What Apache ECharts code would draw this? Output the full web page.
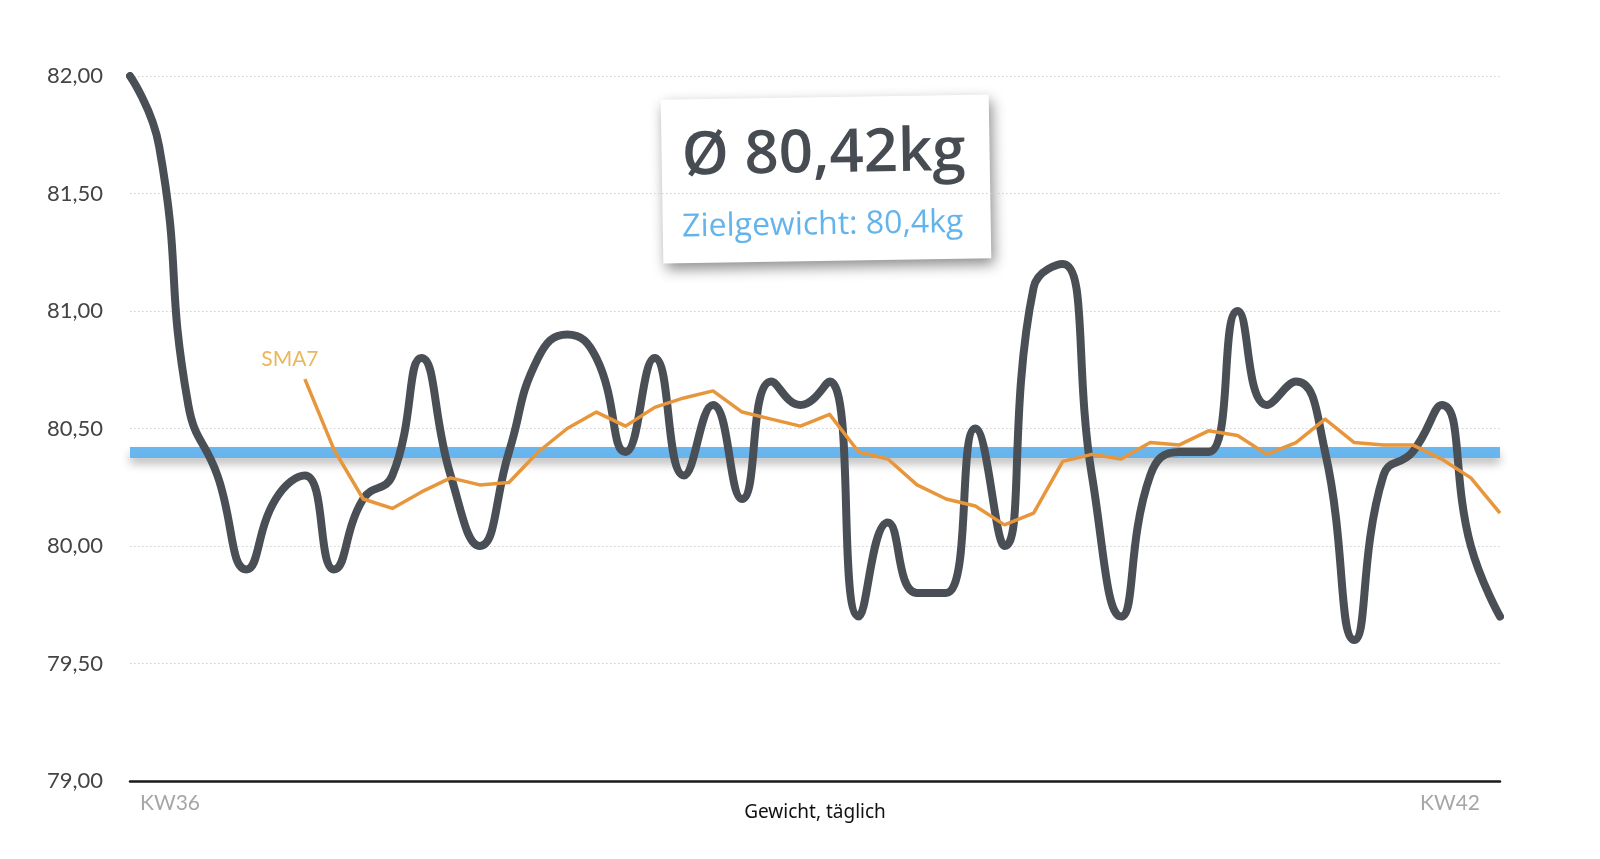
<!DOCTYPE html>
<html>
<head>
<meta charset="utf-8">
<script src="https://cdn.jsdelivr.net/npm/echarts@6/dist/echarts.min.js"></script>
<style>
  html, body { margin: 0; padding: 0; background: #ffffff; }
  #chart { width: 1600px; height: 859px; }
</style>
</head>
<body>
<div id="chart"></div>
<script>
// Daily weight (kg)
const weights = [
  82.0, 81.7, 80.6, 80.3, 79.9, 80.2, 80.3, 79.9, 80.2, 80.3,
  80.8, 80.3, 80.0, 80.4, 80.8, 80.9, 80.8, 80.4, 80.8, 80.3,
  80.6, 80.2, 80.7, 80.6, 80.7, 79.7, 80.1, 79.8, 79.8, 80.5,
  80.0, 81.1, 81.2, 80.3, 79.7, 80.3, 80.4, 80.4, 81.0, 80.6,
  80.7, 80.4, 79.6, 80.3, 80.4, 80.6, 80.0, 79.7
];
// SMA7 line (first 6 days empty)
const sma7 = [
  null, null, null, null, null, null,
  80.71, 80.41, 80.20, 80.16, 80.23, 80.29, 80.26, 80.27, 80.40, 80.50,
  80.57, 80.51, 80.59, 80.63, 80.66, 80.57, 80.54, 80.51, 80.56, 80.40,
  80.37, 80.26, 80.20, 80.17, 80.09, 80.14, 80.36, 80.39, 80.37, 80.44,
  80.43, 80.49, 80.47, 80.39, 80.44, 80.54, 80.44, 80.43, 80.43, 80.37,
  80.29, 80.14
];
const targetWeight = 80.4;
const averageText = 'Ø 80,42kg';
const targetText = 'Zielgewicht: 80,4kg';
const days = weights.map((_, i) => 'Tag ' + (i + 1));
const xTickLabels = { 0: 'KW36', 47: 'KW42' };
const yTicks = { min: 79, max: 82, interval: 0.5 };
const xAxisTitle = 'Gewicht, täglich';
const smaName = 'SMA7';

const smaStart = sma7.findIndex(v => v !== null);

const chart = echarts.init(document.getElementById('chart'), null, { renderer: 'canvas' });
chart.setOption({
  animation: false,
  backgroundColor: '#ffffff',
  grid: { left: 130, right: 100, top: 76, bottom: 78, containLabel: false },
  xAxis: {
    type: 'category',
    data: days,
    boundaryGap: false,
    axisLine: { show: true, lineStyle: { color: '#1a1a1a', width: 2.5 } },
    axisTick: { show: false },
    splitLine: { show: false },
    axisLabel: {
      interval: 0,
      margin: 12,
      alignMinLabel: 'left',
      alignMaxLabel: 'right',
      formatter: (v, i) => {
        if (i === 0) return '{a|' + xTickLabels[0] + '}';
        if (xTickLabels[i]) return '{b|' + xTickLabels[i] + '}';
        return '';
      },
      rich: {
        a: { fontFamily: 'Lato', fontSize: 21, color: '#a6a6a6', padding: [0, 0, 0, 10] },
        b: { fontFamily: 'Lato', fontSize: 21, color: '#a6a6a6', padding: [0, 20, 0, 0] }
      }
    },
    name: xAxisTitle,
    nameLocation: 'middle',
    nameGap: 22,
    nameMoveOverlap: false,
    nameTextStyle: { fontFamily: 'Noto Sans', fontSize: 19, color: '#111111' }
  },
  yAxis: {
    type: 'value',
    min: yTicks.min,
    max: yTicks.max,
    interval: yTicks.interval,
    axisLine: { show: false },
    axisTick: { show: false },
    axisLabel: {
      margin: 27,
      fontFamily: 'Lato',
      fontSize: 22,
      color: '#444444',
      formatter: v => v.toFixed(2).replace('.', ',')
    },
    splitLine: { show: true, lineStyle: { color: '#cfcfcf', type: [1.5, 2.5], width: 1.2 } }
  },
  series: [
    {
      name: 'Zielgewicht',
      type: 'line',
      data: [],
      silent: true,
      z: 1,
      markLine: {
        silent: true,
        z: 1,
        symbol: 'none',
        label: { show: false },
        lineStyle: {
          color: '#62b3ee',
          width: 11,
          type: 'solid',
          opacity: 0.95,
          shadowColor: 'rgba(0,0,0,0.28)',
          shadowBlur: 10,
          shadowOffsetY: 6
        },
        data: [{ yAxis: targetWeight }]
      }
    },
    {
      name: 'Gewicht',
      type: 'line',
      data: weights,
      smooth: 0.5,
      showSymbol: false,
      symbol: 'none',
      z: 3,
      lineStyle: { color: '#4a4f56', width: 8, cap: 'round', join: 'round' }
    },
    {
      name: smaName,
      type: 'line',
      data: sma7,
      smooth: false,
      showSymbol: false,
      symbol: 'none',
      z: 4,
      lineStyle: { color: '#e8963b', width: 3.5, join: 'round' },
      markPoint: {
        silent: true,
        symbol: 'circle',
        symbolSize: 0,
        label: {
          show: true,
          position: 'inside',
          offset: [-15, -20],
          formatter: smaName,
          fontFamily: 'Lato',
          fontSize: 21,
          color: '#ebb65c'
        },
        data: [{ coord: [smaStart, sma7[smaStart]], value: smaName }]
      }
    }
  ],
  graphic: [
    {
      type: 'group',
      x: 826,
      y: 179,
      rotation: 0.016,
      z: 100,
      children: [
        {
          type: 'rect',
          shape: { x: -164, y: -82, width: 328, height: 164 },
          style: {
            fill: '#ffffff',
            shadowBlur: 14,
            shadowColor: 'rgba(0,0,0,0.45)',
            shadowOffsetX: 3,
            shadowOffsetY: 6
          }
        },
        {
          type: 'text',
          x: -2,
          y: -24,
          style: {
            text: averageText,
            fontFamily: 'Open Sans',
            fontWeight: 600,
            fontSize: 60,
            fill: '#474c53',
            align: 'center',
            verticalAlign: 'middle'
          }
        },
        {
          type: 'text',
          x: -4,
          y: 46,
          style: {
            text: targetText,
            fontFamily: 'Open Sans',
            fontSize: 32,
            fill: '#64b4ec',
            align: 'center',
            verticalAlign: 'middle'
          }
        }
      ]
    }
  ]
});
</script>
</body>
</html>
